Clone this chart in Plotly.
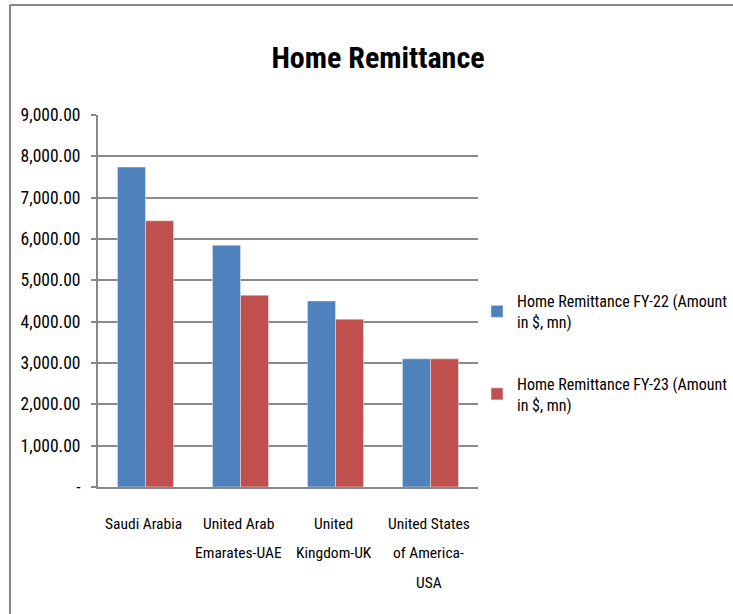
import plotly.graph_objects as go

categories = ["Saudi Arabia", "United Arab<br>Emarates-UAE", "United<br>Kingdom-UK", "United States<br>of America-<br>USA"]
fy22 = [7740, 5850, 4500, 3100]
fy23 = [6440, 4640, 4060, 3100]
series_names = ["Home Remittance FY-22 (Amount<br>in $, mn)", "Home Remittance FY-23 (Amount<br>in $, mn)"]
tick_vals = [0, 1000, 2000, 3000, 4000, 5000, 6000, 7000, 8000, 9000]
tick_text = ["-", "1,000.00", "2,000.00", "3,000.00", "4,000.00", "5,000.00",
             "6,000.00", "7,000.00", "8,000.00", "9,000.00"]

FONT = "Liberation Sans Narrow, Arial Narrow, Roboto Condensed, sans-serif"
W, H = 733, 614
L, R, T, B = 98, 478, 115, 487

fig = go.Figure()
fig.add_trace(go.Bar(x=list(range(len(categories))), y=fy22, name=series_names[0],
                     marker_color="#4F81BD", legendgroup="a"))
fig.add_trace(go.Bar(x=list(range(len(categories))), y=fy23, name=series_names[1],
                     marker_color="#C0504D", legendgroup="b"))

# category labels, line by line
line_gap = 29.5
for i, c in enumerate(categories):
    for j, part in enumerate(c.split("<br>")):
        fig.add_annotation(x=i, xref="x", y=0, yref="y", text=part, showarrow=False,
                           yanchor="middle", xanchor="center",
                           yshift=-(36.5 + j * line_gap), xshift=-2,
                           font=dict(family=FONT, size=15.5, color="#000"))

# outer border (top and left)
pw, ph = R - L, B - T
def px(x):
    return (x - L) / pw
def py(y):
    return (B - y) / ph
fig.add_shape(type="line", xref="paper", yref="paper", x0=px(10), x1=px(740), y0=py(5), y1=py(5),
              line=dict(color="#878787", width=2))
fig.add_shape(type="line", xref="paper", yref="paper", x0=px(10), x1=px(10), y0=py(5), y1=py(620),
              line=dict(color="#878787", width=2))

fig.update_layout(
    width=W, height=H,
    margin=dict(l=L, r=W - R, t=T, b=H - B, autoexpand=False),
    paper_bgcolor="white", plot_bgcolor="white",
    barmode="group", bargap=0.41, bargroupgap=0,
    title=dict(text="<b>Home Remittance</b>", x=378 / W, xanchor="center",
               y=1 - 57 / H, yanchor="middle",
               font=dict(family=FONT, size=30, color="#000")),
    font=dict(family=FONT, size=16, color="#000"),
    showlegend=True,
    legend=dict(x=px(477), xanchor="left", y=py(284), yanchor="top",
                font=dict(family=FONT, size=16, color="#000"),
                tracegroupgap=38, bgcolor="rgba(0,0,0,0)"),
    xaxis=dict(range=[-0.5, 3.5], showticklabels=False, showgrid=False, zeroline=False,
               showline=True, linecolor="#888", linewidth=2, ticks=""),
    yaxis=dict(range=[0, 9000], tickvals=tick_vals, ticktext=tick_text,
               showgrid=True, gridcolor="#8a8a8a", gridwidth=2, zeroline=False,
               showline=True, linecolor="#888", linewidth=2,
               ticks="outside", ticklen=5, tickcolor="#888", tickwidth=1.5,
               ticklabelstandoff=7,
               tickfont=dict(family=FONT, size=17.5, color="#000")),
)

fig.write_html("out.html", config={"displayModeBar": False},
               post_script="document.body.style.margin='0px';")
